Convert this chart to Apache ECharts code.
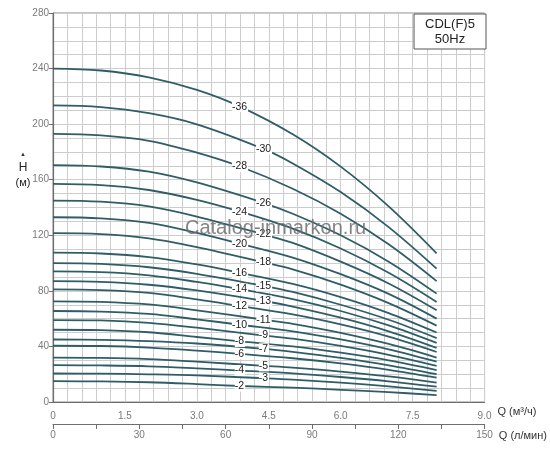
<!DOCTYPE html>
<html><head><meta charset="utf-8">
<script src="https://cdn.jsdelivr.net/npm/echarts@6/dist/echarts.min.js"></script>
<style>html,body{margin:0;padding:0;background:#fff}#c{width:550px;height:450px}</style>
</head><body><div id="c"></div>
<script>
// Stage labels (top curve first) and where each label sits along Q (m3/h)
const stageLabels = ['-36','-30','-28','-26','-24','-22','-20','-18','-16','-15','-14','-13','-12','-11','-10','-9','-8','-7','-6','-5','-4','-3','-2'];
const labelQ = [3.9,4.4,3.9,4.4,3.9,4.4,3.9,4.4,3.9,4.4,3.9,4.4,3.9,4.4,3.9,4.4,3.9,4.4,3.9,4.4,3.9,4.4,3.9];
// Flow points (index 4 is replaced by the label position of each curve)
const flowQ = [0, 1, 2, 3, null, 5, 6, 7, 8];
// Head values H (m) per curve at the flow points
const H36 = [240, 238.6, 233.7, 224.6, 212.6, 192.7, 169.4, 140.8, 107];
const H30 = [213.5, 212.3, 207.9, 199.9, 182.0, 171.7, 151.1, 125.9, 96];
const H28 = [193, 191.9, 188.0, 179.5, 169.5, 153.5, 135.5, 113.5, 87];
const H26 = [170.5, 169.5, 165.8, 158.0, 143.2, 135.5, 120.0, 101.0, 78];
const H24 = [157, 156.1, 152.6, 145.5, 137.0, 124.8, 110.5, 93.0, 72];
const H22 = [145, 144.2, 140.8, 133.5, 120.5, 114.5, 101.0, 85.3, 66];
const H20 = [133, 132.2, 129.0, 121.8, 114.0, 104.0, 92.0, 77.8, 60];
const H18 = [121.5, 120.8, 117.8, 111.5, 100.5, 95.5, 84.5, 71.2, 55];
const H16 = [107.5, 106.9, 104.3, 99.0, 93.0, 85.0, 75.5, 64.0, 50];
const H15 = [100, 99.4, 97.0, 92.3, 83.5, 79.2, 70.0, 59.2, 46];
const H14 = [94, 93.5, 91.2, 86.4, 81.2, 74.0, 65.5, 55.1, 42.5];
const H13 = [87, 86.5, 84.4, 80.3, 72.7, 68.7, 60.7, 50.9, 39];
const H12 = [81, 80.5, 78.5, 73.8, 69.0, 63.0, 55.8, 47.0, 36];
const H11 = [72.5, 72.1, 70.2, 66.0, 59.2, 56.3, 49.8, 41.8, 32];
const H10 = [65.5, 65.1, 63.4, 59.5, 55.6, 50.8, 45.0, 37.9, 29];
const H9 = [59, 58.7, 57.0, 53.5, 47.8, 45.6, 40.4, 34.0, 26];
const H8 = [52, 51.7, 50.2, 46.8, 43.6, 40.0, 35.5, 30.0, 23];
const H7 = [45, 44.7, 43.8, 42.1, 38.3, 36.1, 31.7, 26.4, 20];
const H6 = [40.5, 40.3, 39.2, 37.0, 34.7, 31.5, 27.8, 23.2, 17.5];
const H5 = [32, 31.8, 30.9, 29.0, 26.0, 24.7, 21.9, 18.4, 14];
const H4 = [26.5, 26.3, 25.7, 24.2, 22.6, 20.6, 18.0, 14.9, 11];
const H3 = [20.5, 20.4, 19.9, 19.1, 17.1, 16.1, 13.9, 11.2, 8];
const H2 = [15, 14.8, 14.2, 12.9, 11.5, 10.3, 8.8, 7.1, 5];
const headCurves = [H36,H30,H28,H26,H24,H22,H20,H18,H16,H15,H14,H13,H12,H11,H10,H9,H8,H7,H6,H5,H4,H3,H2];
// Axis ranges
const qMax = 9, qStep = 1.5, lMax = 150, lStep = 15, hMax = 280, hStep = 40;
const titleLines = ['CDL(F)5', '50Hz'];
const watermark = 'Catalog-inmarkon.ru';

const FONT = 'Liberation Sans, Arial, sans-serif';
const LINE = '#2f5d67';
const GRID = '#cdcdcd';
const AX = '#6e6e6e';

const series = headCurves.map((h, i) => ({
  type: 'line',
  smooth: 0.35,
  symbol: 'circle',
  symbolSize: 0,
  showSymbol: true,
  silent: true,
  lineStyle: { color: LINE, width: 1.8 },
  itemStyle: { color: LINE },
  label: { show: false },
  data: h.map((v, k) => {
    const q = k === 4 ? labelQ[i] : flowQ[k];
    if (k === 4) {
      return { value: [q, v], label: { show: true, position: 'inside', formatter: stageLabels[i],
        color: '#1a1a1a', fontSize: 10.5, fontFamily: FONT, backgroundColor: '#fff', padding: [0, 1, 0, 0] } };
    }
    return [q, v];
  })
}));

const chart = echarts.init(document.getElementById('c'), null, { renderer: 'canvas' });
chart.setOption({
  animation: false,
  textStyle: { fontFamily: FONT },
  grid: { left: 53, right: 64, top: 13, bottom: 48, show: true, borderColor: '#8a8a8a', borderWidth: 1, backgroundColor: 'transparent' },
  xAxis: [{
    type: 'value', min: 0, max: qMax, interval: qStep, position: 'bottom',
    axisLine: { lineStyle: { color: AX, width: 1.2 } },
    axisTick: { show: false },
    axisLabel: { color: '#7a7a7a', fontSize: 10, margin: 9, fontFamily: FONT,
      formatter: v => v === 0 ? '0' : v.toFixed(1) },
    splitLine: { show: true, lineStyle: { color: GRID, width: 1 } },
    minorTick: { show: false, splitNumber: 5 },
    minorSplitLine: { show: true, lineStyle: { color: GRID, width: 1 } },
    name: 'Q (м³/ч)', nameLocation: 'end', nameGap: 5,
    nameTextStyle: { color: '#333', fontSize: 11, fontFamily: FONT, verticalAlign: 'top', padding: [4, 0, 0, 0] }
  }, {
    type: 'value', min: 0, max: lMax, interval: lStep, position: 'bottom', offset: 22,
    axisLine: { show: true, lineStyle: { color: AX, width: 1.2 } },
    axisTick: { show: true, length: 5, lineStyle: { color: AX } },
    axisLabel: { color: '#7a7a7a', fontSize: 10, margin: 6, fontFamily: FONT,
      formatter: v => (Math.round(v) % 30 === 0 ? String(Math.round(v)) : '') },
    splitLine: { show: false },
    name: 'Q (л/мин)', nameLocation: 'end', nameGap: 5,
    nameTextStyle: { color: '#333', fontSize: 11, fontFamily: FONT, verticalAlign: 'top', padding: [6, 0, 0, 0] }
  }],
  yAxis: {
    type: 'value', min: 0, max: hMax, interval: hStep,
    axisLine: { show: true, lineStyle: { color: AX, width: 1.2 } },
    axisTick: { show: true, length: 4, lineStyle: { color: AX } },
    axisLabel: { color: '#7a7a7a', fontSize: 10, margin: 4, fontFamily: FONT },
    splitLine: { show: true, lineStyle: { color: GRID, width: 1 } },
    minorTick: { show: false, splitNumber: 4 },
    minorSplitLine: { show: true, lineStyle: { color: GRID, width: 1 } }
  },
  series: series,
  graphic: [
    { type: 'text', x: 23, y: 154, style: { text: '▲', fontSize: 6, fill: '#333', fontFamily: FONT, textAlign: 'center', textVerticalAlign: 'middle' } },
    { type: 'text', x: 23, y: 168, style: { text: 'H', fontSize: 12, fill: '#222', fontFamily: FONT, textAlign: 'center', textVerticalAlign: 'middle' } },
    { type: 'text', x: 23, y: 183, style: { text: '(м)', fontSize: 11, fill: '#222', fontFamily: FONT, textAlign: 'center', textVerticalAlign: 'middle' } },
    { type: 'rect', x: 414, y: 14, z: 50, shape: { x: 0, y: 0, width: 72, height: 35, r: 0 }, style: { fill: '#fff', stroke: '#555', lineWidth: 1 } },
    { type: 'text', z: 51, x: 450, y: 24, style: { text: titleLines[0], fontSize: 13, fill: '#222', fontFamily: FONT, textAlign: 'center', textVerticalAlign: 'middle' } },
    { type: 'text', z: 51, x: 450, y: 39, style: { text: titleLines[1], fontSize: 13, fill: '#222', fontFamily: FONT, textAlign: 'center', textVerticalAlign: 'middle' } },
    { type: 'text', z: 60, x: 185, y: 228, style: { text: watermark, fontSize: 20, fill: 'rgba(110,110,110,0.85)', fontFamily: FONT, textAlign: 'left', textVerticalAlign: 'middle' } }
  ]
});
</script>
</body></html>
